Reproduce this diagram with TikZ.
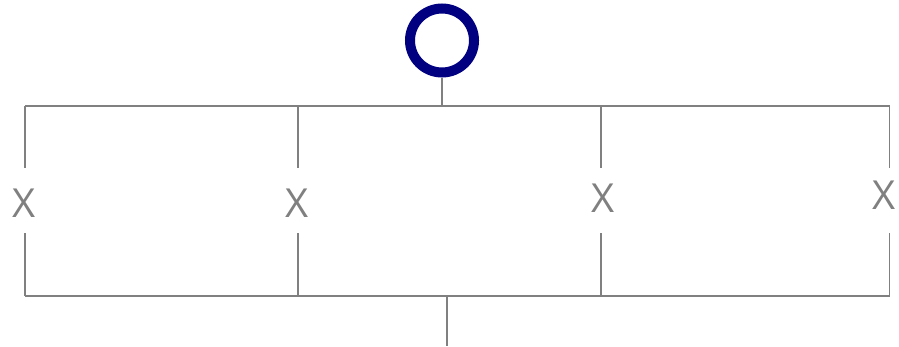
\documentclass[tikz,border=0pt]{standalone}
\usepackage{fontspec}
\setmainfont{Open Sans}
\definecolor{lineg}{RGB}{128,128,128}
\definecolor{navyc}{RGB}{0,0,128}
\begin{document}
\begin{tikzpicture}[x=1pt,y=-1pt,
  conn/.style={draw=lineg,line width=1.8pt},
  xlab/.style={text=lineg,font=\fontsize{40}{40}\selectfont,inner sep=0pt,anchor=center}]
\useasboundingbox (0,0) rectangle (899,346);
% top ring
\node[circle,draw=navyc,line width=10pt,minimum size=64pt,inner sep=0pt] (ring) at (442,40.5) {};
% junction coordinates
\coordinate (tc) at (442,106);
\coordinate (t1) at (25,106);
\coordinate (t2) at (298,106);
\coordinate (t3) at (601,106);
\coordinate (t4) at (889.5,106);
\coordinate (b1) at (25,296);
\coordinate (b2) at (298,296);
\coordinate (b3) at (601,296);
\coordinate (b4) at (889.5,296);
\coordinate (bc) at (447,296);
\coordinate (bend) at (447,346);
% segment ends around labels
\coordinate (u1) at (25,168);  \coordinate (l1) at (25,233);
\coordinate (u2) at (298,168); \coordinate (l2) at (298,233);
\coordinate (u3) at (601,168); \coordinate (l3) at (601,233);
\coordinate (u4) at (889.5,168); \coordinate (l4) at (889.5,233);
% labels
\node[xlab] (x1) at (24,203) {X};
\node[xlab] (x2) at (297,203) {X};
\node[xlab] (x3) at (603,198) {X};
\node[xlab] (x4) at (884,195) {X};
% connectors
\draw[conn] (ring.south) -- (tc);
\draw[conn] (t1) -- (t4);
\draw[conn] (b1) -- (b4);
\draw[conn] (bc) -- (bend);
\draw[conn] (t1) -- (u1); \draw[conn] (l1) -- (b1);
\draw[conn] (t2) -- (u2); \draw[conn] (l2) -- (b2);
\draw[conn] (t3) -- (u3); \draw[conn] (l3) -- (b3);
\draw[conn] (t4) -- (u4); \draw[conn] (l4) -- (b4);
\end{tikzpicture}
\end{document}
